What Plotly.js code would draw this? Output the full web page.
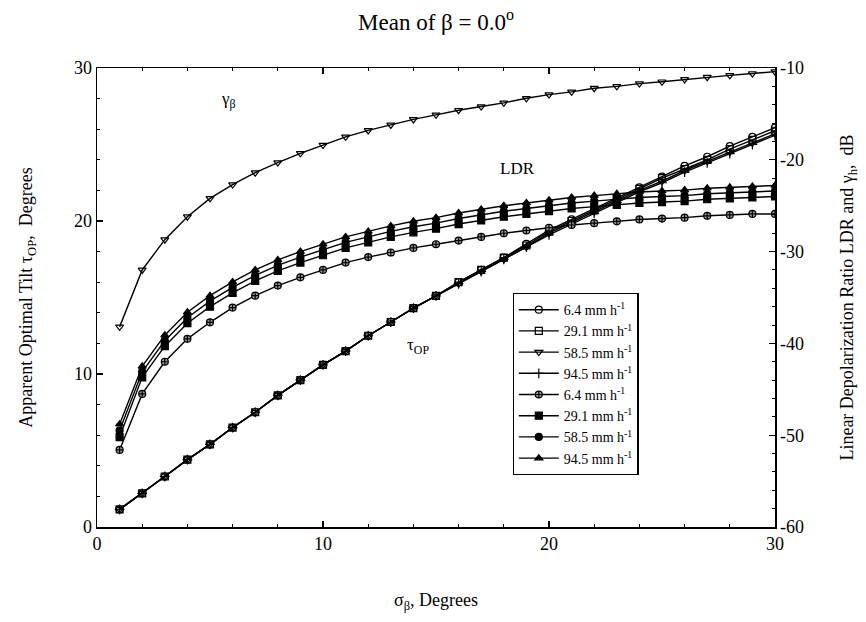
<!DOCTYPE html>
<html>
<head>
<meta charset="utf-8">
<script src="https://cdn.plot.ly/plotly-3.0.1.min.js"></script>
<style>html,body{margin:0;padding:0;background:#fff}</style>
</head>
<body>
<div id="chart" style="width:866px;height:622px"></div>
<script>
const sigma = [1,2,3,4,5,6,7,8,9,10,11,12,13,14,15,16,17,18,19,20,21,22,23,24,25,26,27,28,29,30];
const rainLabels = ["6.4 mm h<sup>-1</sup>", "29.1 mm h<sup>-1</sup>", "58.5 mm h<sup>-1</sup>", "94.5 mm h<sup>-1</sup>"];

// Apparent optimal tilt tau_OP (degrees, left axis)
const tau_6_4  = [1.15,2.2,3.3,4.4,5.4,6.5,7.5,8.6,9.6,10.6,11.5,12.5,13.4,14.3,15.1,16.0,16.8,17.6,18.5,19.4,20.1,20.8,21.5,22.2,22.9,23.6,24.2,24.9,25.5,26.1];
const tau_29_1 = [1.15,2.2,3.3,4.4,5.4,6.5,7.5,8.6,9.6,10.6,11.5,12.5,13.4,14.3,15.1,16.0,16.8,17.6,18.4,19.3,20.0,20.7,21.4,22.1,22.8,23.4,24.0,24.7,25.3,25.9];
const tau_58_5 = [1.15,2.2,3.3,4.4,5.4,6.5,7.5,8.6,9.6,10.6,11.5,12.5,13.4,14.3,15.1,15.9,16.7,17.5,18.3,19.2,19.9,20.6,21.3,22.0,22.6,23.3,23.9,24.5,25.1,25.7];
const tau_94_5 = [1.15,2.2,3.3,4.4,5.4,6.5,7.5,8.6,9.6,10.6,11.5,12.5,13.4,14.3,15.1,15.9,16.7,17.5,18.3,19.1,19.8,20.5,21.2,21.9,22.5,23.2,23.8,24.4,25.0,25.6];

// Linear depolarization ratio LDR (dB, right axis)
const ldr_6_4  = [-51.6,-45.5,-42.0,-39.5,-37.7,-36.1,-34.8,-33.7,-32.8,-32.0,-31.2,-30.6,-30.1,-29.6,-29.2,-28.8,-28.4,-28.0,-27.7,-27.4,-27.1,-26.9,-26.7,-26.5,-26.4,-26.3,-26.1,-26.0,-25.9,-25.9];
const ldr_29_1 = [-50.2,-43.7,-40.3,-37.8,-36.0,-34.5,-33.2,-32.1,-31.2,-30.4,-29.6,-29.0,-28.4,-27.9,-27.5,-27.0,-26.6,-26.2,-25.9,-25.6,-25.3,-25.1,-24.9,-24.7,-24.6,-24.5,-24.3,-24.2,-24.1,-24.0];
const ldr_58_5 = [-49.5,-43.1,-39.7,-37.2,-35.4,-33.9,-32.6,-31.5,-30.6,-29.8,-29.0,-28.4,-27.8,-27.3,-26.9,-26.4,-26.0,-25.6,-25.3,-25.0,-24.7,-24.5,-24.3,-24.1,-24.0,-23.9,-23.7,-23.6,-23.5,-23.4];
const ldr_94_5 = [-48.8,-42.5,-39.1,-36.6,-34.8,-33.3,-32.0,-30.9,-30.0,-29.2,-28.4,-27.8,-27.2,-26.7,-26.3,-25.8,-25.4,-25.0,-24.7,-24.4,-24.1,-23.9,-23.7,-23.5,-23.4,-23.3,-23.1,-23.0,-22.9,-22.8];

// gamma_beta (dB, right axis)
const gamma_b = [-38.2,-32.0,-28.7,-26.2,-24.2,-22.7,-21.4,-20.3,-19.3,-18.4,-17.5,-16.8,-16.2,-15.6,-15.1,-14.6,-14.2,-13.8,-13.3,-12.9,-12.6,-12.2,-12.0,-11.7,-11.5,-11.25,-11.0,-10.8,-10.6,-10.4];

const xTicks = [0,10,20,30];
const yTicksLeft = [0,10,20,30];
const yTicksRight = [-60,-50,-40,-30,-20,-10];

const FONT = "Liberation Serif, Times New Roman, serif";

function tr(y, axis, name, symbol, fill, show) {
  return {
    x: sigma, y: y, yaxis: axis, name: name, type: "scatter", mode: "lines+markers",
    showlegend: show !== false,
    line: {color: "#000", width: 1.4},
    marker: {symbol: symbol, size: 7, color: fill, line: {color: "#000", width: 1.2}}
  };
}

const data = [
  tr(tau_6_4,  "y",  rainLabels[0], "circle-open", "#000"),
  tr(tau_29_1, "y",  rainLabels[1], "square-open", "#000"),
  tr(tau_58_5, "y",  rainLabels[2], "triangle-down-open", "#000"),
  tr(tau_94_5, "y",  rainLabels[3], "cross-thin-open", "#000"),
  tr(ldr_6_4,  "y2", rainLabels[0], "circle-cross", "#999"),
  tr(ldr_29_1, "y2", rainLabels[1], "square", "#000"),
  tr(ldr_58_5, "y2", rainLabels[2], "circle", "#000"),
  tr(ldr_94_5, "y2", rainLabels[3], "triangle-up", "#000"),
  tr(gamma_b,  "y2", "γβ", "triangle-down-open", "#000", false)
];

const axisCommon = {
  showgrid: false, zeroline: false, showline: true, linecolor: "#000", linewidth: 1.5,
  ticks: "inside", ticklen: 6, tickwidth: 1.2, tickcolor: "#000",
  tickfont: {family: FONT, size: 18, color: "#000"},
  minor: {ticks: "inside", ticklen: 3, dtick: 2, tickcolor: "#000", tickwidth: 1}
};

const layout = {
  width: 866, height: 622,
  margin: {l: 97, r: 91, t: 68, b: 95},
  paper_bgcolor: "#fff", plot_bgcolor: "#fff",
  font: {family: FONT, color: "#000"},
  title: {text: "Mean of β = 0.0<sup>o</sup>", font: {family: FONT, size: 23, color: "#000"},
          x: 0.5035, xanchor: "center", y: 0.965, yanchor: "middle"},
  xaxis: Object.assign({}, axisCommon, {
    range: [0, 30], tickvals: xTicks, ticktext: xTicks.map(String), mirror: "ticks",
    title: {text: "σ<sub>β</sub>, Degrees", font: {family: FONT, size: 18, color: "#000"}, standoff: 40},
    automargin: false
  }),
  yaxis: Object.assign({}, axisCommon, {
    range: [0, 30], tickvals: yTicksLeft, ticktext: yTicksLeft.map(String), mirror: false,
    title: {text: "Apparent Optimal Tilt τ<sub>OP</sub>,  Degrees", font: {family: FONT, size: 18, color: "#000"}, standoff: 36},
    automargin: false
  }),
  yaxis2: Object.assign({}, axisCommon, {
    range: [-60, -10], tickvals: yTicksRight, ticktext: yTicksRight.map(String),
    overlaying: "y", side: "right",
    title: {text: "Linear Depolarization Ratio LDR and γ<sub>h</sub>,  dB", font: {family: FONT, size: 18, color: "#000"}, standoff: 37},
    automargin: false
  }),
  showlegend: true,
  legend: {
    x: 0.613, y: 0.51, xanchor: "left", yanchor: "top",
    bgcolor: "#fff", bordercolor: "#000", borderwidth: 1.2,
    font: {family: FONT, size: 14, color: "#000"},
    tracegroupgap: 0, itemwidth: 40, entrywidth: 175, entrywidthmode: "pixels"
  },
  annotations: [
    {x: 5.8, y: 27.9, xref: "x", yref: "y", text: "γ<sub>β</sub>", showarrow: false, font: {family: FONT, size: 17, color: "#000"}},
    {x: 18.6, y: 23.4, xref: "x", yref: "y", text: "LDR", showarrow: false, font: {family: FONT, size: 17, color: "#000"}},
    {x: 14.2, y: 11.8, xref: "x", yref: "y", text: "τ<sub>OP</sub>", showarrow: false, font: {family: FONT, size: 17, color: "#000"}}
  ]
};

Plotly.newPlot("chart", data, layout, {displayModeBar: false, staticPlot: true});
</script>
</body>
</html>
